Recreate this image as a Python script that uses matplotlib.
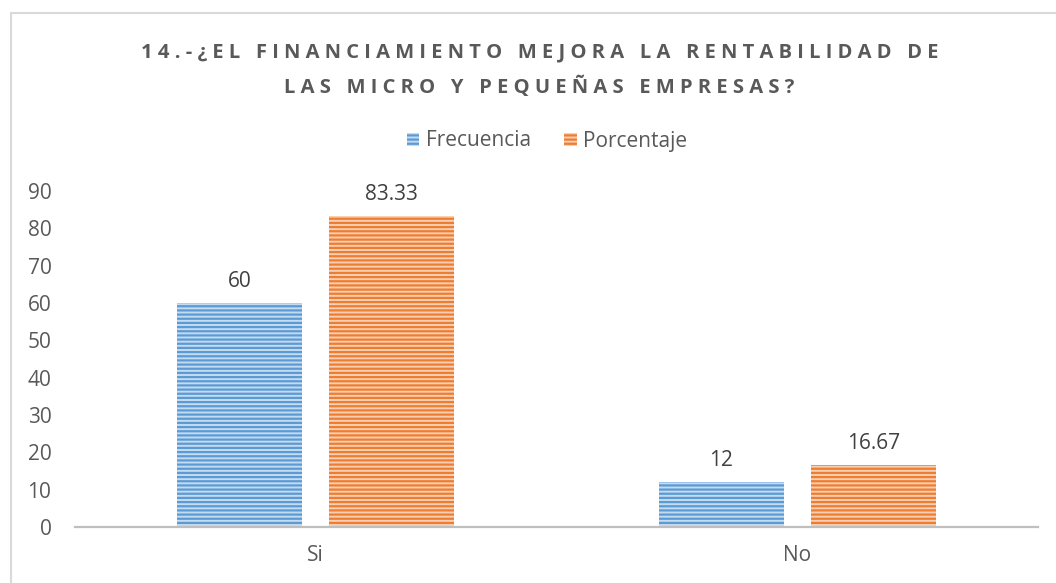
import numpy as np
import matplotlib
matplotlib.use('Agg')
import matplotlib.pyplot as plt
from matplotlib.patches import Rectangle, Patch

categories = ['Si', 'No']
frecuencia = [60, 12]
porcentaje = [83.33, 16.67]
freq_labels = ['60', '12']
pct_labels = ['83.33', '16.67']
yticks = [0, 10, 20, 30, 40, 50, 60, 70, 80, 90]
title_lines = ['14.-¿EL FINANCIAMIENTO MEJORA LA RENTABILIDAD DE',
               'LAS MICRO Y PEQUEÑAS EMPRESAS?']

plt.rcParams['font.family'] = ['Open Sans', 'DejaVu Sans']
plt.rcParams['hatch.linewidth'] = 1.6

gray = '#595959'
blue_face, blue_line = '#c5dbf0', '#5b9bd5'
orange_face, orange_line = '#f9cfb3', '#ed7d31'

fig = plt.figure(figsize=(10.56, 5.83), dpi=100)

# chart frame
fig.patches.append(Rectangle((11 / 1056, -0.1), 1.2, 1 - 13 / 583 + 0.1,
                             transform=fig.transFigure, fill=False,
                             edgecolor='#d9d9d9', linewidth=1.5))

ax = fig.add_axes([75 / 1056, 1 - 527 / 583, (1038 - 75) / 1056, 336 / 583])

x = np.arange(len(categories))
w = 0.26
off = 0.158
b1 = ax.bar(x - off, frecuencia, w, color=blue_face, edgecolor=blue_line,
            hatch='----', linewidth=0)
b2 = ax.bar(x + off, porcentaje, w, color=orange_face, edgecolor=orange_line,
            hatch='----', linewidth=0)

for bars, labels in ((b1, freq_labels), (b2, pct_labels)):
    for rect, lab in zip(bars, labels):
        ax.annotate(lab, (rect.get_x() + rect.get_width() / 2, rect.get_height()),
                    xytext=(0, 8), textcoords='offset points', ha='center',
                    va='bottom', fontsize=15, color='#404040')

ax.set_xlim(-0.5, 1.5)
ax.set_ylim(0, 90)
ax.set_yticks(yticks)
ax.set_xticks(x)
ax.set_xticklabels(categories)
ax.tick_params(length=0, labelsize=15, labelcolor=gray)
ax.tick_params(axis='y', pad=17)
ax.tick_params(axis='x', pad=13)
for s in ['top', 'right', 'left']:
    ax.spines[s].set_visible(False)
ax.spines['bottom'].set_color('#bfbfbf')
ax.spines['bottom'].set_linewidth(1.6)


def spaced(s):
    # letter spacing: one space between letters
    return ' '.join(s)


fig.text(0.511, 1 - 52 / 583, spaced(title_lines[0]), ha='center', va='center',
         fontsize=14.5, fontweight='bold', color=gray)
fig.text(0.511, 1 - 87 / 583, spaced(title_lines[1]), ha='center', va='center',
         fontsize=14.5, fontweight='bold', color=gray)

handles = [Patch(facecolor=blue_face, edgecolor=blue_line, hatch='----', linewidth=0),
           Patch(facecolor=orange_face, edgecolor=orange_line, hatch='----', linewidth=0)]
fig.legend(handles, ['Frecuencia', 'Porcentaje'], loc='center',
           bbox_to_anchor=(547 / 1056, 1 - 141 / 583), ncol=2, frameon=False,
           fontsize=15, labelcolor=gray, handlelength=0.6, handleheight=0.6,
           handletextpad=0.3, columnspacing=1.6)

fig.savefig('out.png', dpi=100)
